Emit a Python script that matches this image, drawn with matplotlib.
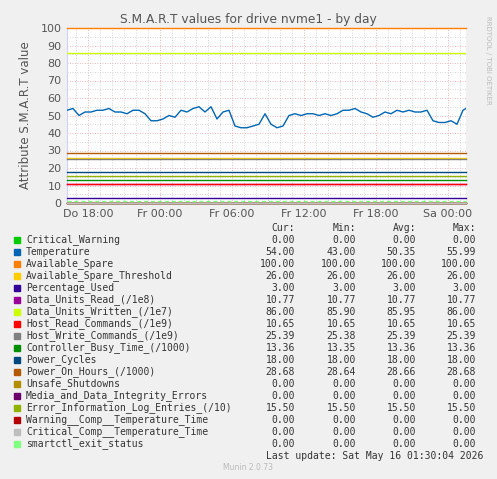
import numpy as np
import matplotlib
matplotlib.use("Agg")
import matplotlib.pyplot as plt

W, H = 497, 479
hours = [0, .5, 1, 1.5, 2, 2.5, 3, 3.5, 4, 4.5, 5, 5.5, 6, 6.5, 7, 7.5, 8, 8.5, 9, 9.5,
         10, 10.5, 11, 11.5, 12, 12.5, 13, 13.5, 14, 14.5, 15, 15.5, 16, 16.5, 17, 17.5,
         18, 18.5, 19, 19.5, 20, 20.5, 21, 21.5, 22, 22.5, 23, 23.5, 24, 24.5, 25, 25.5,
         26, 26.5, 27, 27.5, 28, 28.5, 29, 29.5, 30, 30.5, 31, 31.5, 32, 32.5, 33, 33.25]
temperature = [53, 54, 50, 52, 52, 53, 53, 54, 52, 52, 51, 53, 53, 51, 47, 47, 48, 50, 49, 53,
               52, 54, 55, 52, 55, 48, 52, 53, 44, 43, 43, 44, 45, 51, 45, 43,
               44, 50, 51, 50, 51, 51, 50, 51, 50, 51, 53, 53, 54, 52, 51, 49,
               50, 52, 51, 53, 52, 53, 52, 52, 53, 47, 46, 46, 47, 45, 53, 54]
written_hours = [0, 31.3, 31.3, 33.25]
written_vals = [85.9, 85.9, 86.0, 86.0]

names = ["Critical_Warning", "Temperature", "Available_Spare", "Available_Spare_Threshold",
         "Percentage_Used", "Data_Units_Read_(/1e8)", "Data_Units_Written_(/1e7)",
         "Host_Read_Commands_(/1e9)", "Host_Write_Commands_(/1e9)", "Controller_Busy_Time_(/1000)",
         "Power_Cycles", "Power_On_Hours_(/1000)", "Unsafe_Shutdowns",
         "Media_and_Data_Integrity_Errors", "Error_Information_Log_Entries_(/10)",
         "Warning__Comp__Temperature_Time", "Critical_Comp__Temperature_Time", "smartctl_exit_status"]
colors = ["#00CC00", "#0066B3", "#FF8000", "#FFCC00", "#330099", "#990099", "#CCFF00", "#FF0000",
          "#808080", "#008F00", "#00487D", "#B35A00", "#B38F00", "#6B006B", "#8FB300", "#B30000",
          "#BEBEBE", "#80FF80"]
cur = [0, 54, 100, 26, 3, 10.77, 86, 10.65, 25.39, 13.36, 18, 28.68, 0, 0, 15.5, 0, 0, 0]
mn = [0, 43, 100, 26, 3, 10.77, 85.9, 10.65, 25.38, 13.35, 18, 28.64, 0, 0, 15.5, 0, 0, 0]
avg = [0, 50.35, 100, 26, 3, 10.77, 85.95, 10.65, 25.39, 13.36, 18, 28.66, 0, 0, 15.5, 0, 0, 0]
mx = [0, 55.99, 100, 26, 3, 10.77, 86, 10.65, 25.39, 13.36, 18, 28.68, 0, 0, 15.5, 0, 0, 0]
xtick_pos = [1.75, 7.75, 13.75, 19.75, 25.75, 31.75]
xtick_labels = ["Do 18:00", "Fr 00:00", "Fr 06:00", "Fr 12:00", "Fr 18:00", "Sa 00:00"]

fig = plt.figure(figsize=(W / 100, H / 100), dpi=100, facecolor="#F0F0F0")
ax = fig.add_axes([67 / W, 1 - 203 / H, (466 - 67) / W, (203 - 28) / H])
ax.set_facecolor("white")
x0, x1 = 0, 33.25
ax.set_xlim(x0, x1)
ax.set_ylim(0, 100)

for y in range(5, 100, 5):
    if y % 10:
        ax.axhline(y, color="#C8C8C8", lw=0.6, ls=(0, (1, 2)), zorder=0)
for y in range(10, 101, 10):
    ax.axhline(y, color="#E8A0A0", lw=0.6, ls=(0, (1, 2)), zorder=0)
for h in np.arange(0.75, 33.25, 1.0):
    if (h - 1.75) % 6:
        ax.axvline(h, color="#C8C8C8", lw=0.6, ls=(0, (1, 2)), zorder=0)
for h in xtick_pos:
    ax.axvline(h, color="#E8A0A0", lw=0.6, ls=(0, (1, 2)), zorder=0)

for i in range(len(names)):
    if i == 1:
        ax.plot(hours, temperature, color=colors[i], lw=1, zorder=3)
    elif i == 6:
        ax.plot(written_hours, written_vals, color=colors[i], lw=1, zorder=3)
    else:
        kw = dict(ls=(0, (3, 2))) if i == 17 else {}
        yv = 1 if i == 17 else avg[i]
        ax.plot([x0, x1], [yv, yv], color=colors[i], lw=1, zorder=3, clip_on=False, **kw)

for s in ["top", "right"]:
    ax.spines[s].set_visible(False)
for s in ["left", "bottom"]:
    ax.spines[s].set_color("#D0D0FF")
ax.set_yticks(range(0, 101, 10))
ax.set_xticks(xtick_pos)
ax.set_xticklabels(xtick_labels)
ax.tick_params(colors="#555555", labelsize=8, length=0, pad=4)
ax.set_ylabel("Attribute S.M.A.R.T value", color="#555555", fontsize=8.5, labelpad=6)

fig.text(248 / W, 1 - 20 / H, "S.M.A.R.T values for drive nvme1 - by day",
         ha="center", va="center", fontsize=8.8, color="#555555")
fig.text(488 / W, 1 - 60 / H, "RRDTOOL / TOBI OETIKER", rotation=270, ha="center", va="center",
         fontsize=5, color="#BBBBBB")

mono = dict(family="DejaVu Sans Mono", fontsize=7, color="#333333", va="center")
def fy(py):
    return 1 - py / H
for col, xr in zip(["Cur:", "Min:", "Avg:", "Max:"], [295, 356, 416, 476]):
    fig.text(xr / W, fy(228), col, ha="right", **mono)
for k, nm in enumerate(names):
    py = 240 + 12 * k
    fig.patches.append(plt.Rectangle((14 / W, fy(py + 3)), 6 / W, 6 / H,
                                     transform=fig.transFigure, color=colors[k]))
    fig.text(26 / W, fy(py), nm, ha="left", **mono)
    for v, xr in zip([cur[k], mn[k], avg[k], mx[k]], [295, 356, 416, 476]):
        fig.text(xr / W, fy(py), f"{v:.2f}", ha="right", **mono)
fig.text(483 / W, fy(456), "Last update: Sat May 16 01:30:04 2026", ha="right", **mono)
fig.text(248 / W, fy(468), "Munin 2.0.73", ha="center", va="center", fontsize=5.5, color="#BBBBBB")

fig.savefig("out.png", dpi=100, facecolor=fig.get_facecolor())
